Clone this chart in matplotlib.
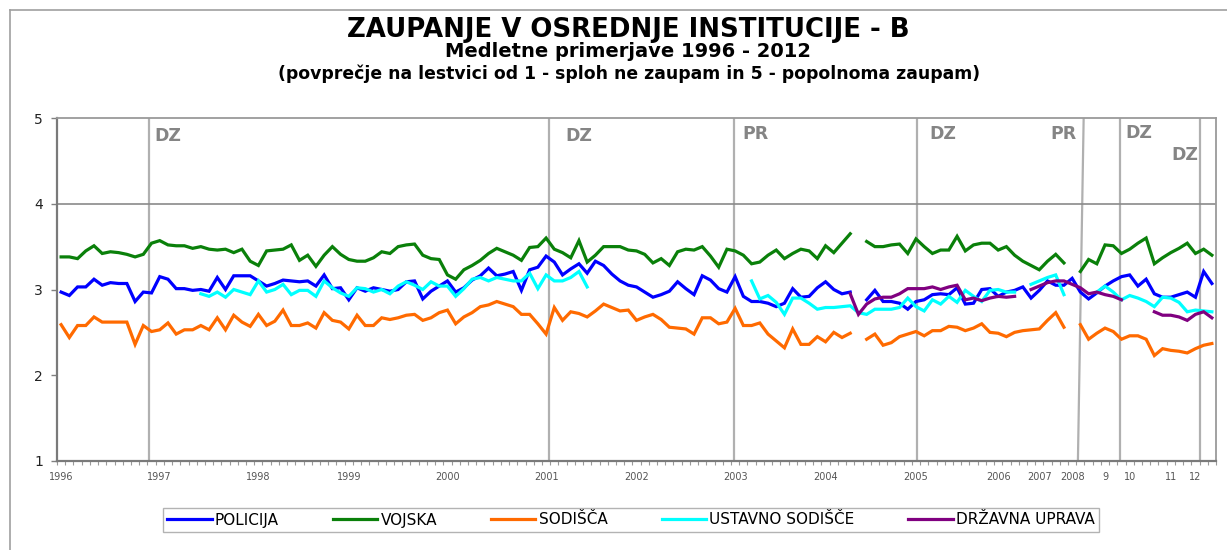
import numpy as np
import matplotlib
matplotlib.use("Agg")
import matplotlib.pyplot as plt
from matplotlib.lines import Line2D

nan = np.nan

# ---------------- data ----------------
series_names = ["POLICIJA", "VOJSKA", "SODIŠČA", "USTAVNO SODIŠČE", "DRŽAVNA UPRAVA"]

policija = [
    2.97, 2.93, 3.03, 3.03, 3.12, 3.05, 3.08, 3.07, 3.07, 2.86,
    2.97, 2.96, 3.15, 3.12, 3.01, 3.01, 2.99, 3.00, 2.98, 3.14,
    3.00, 3.16, 3.16, 3.16, 3.10, 3.04, 3.07, 3.11, 3.10, 3.09,
    3.10, 3.04, 3.17, 3.01, 3.02, 2.88, 3.02, 2.98, 3.02, 3.00,
    2.98, 3.00, 3.09, 3.10, 2.89, 2.98, 3.04, 3.10, 2.97, 3.02,
    3.11, 3.16, 3.25, 3.16, 3.18, 3.21, 2.99, 3.23, 3.26, 3.39,
    3.32, 3.17, 3.24, 3.30, 3.19, 3.33, 3.28, 3.18, 3.10, 3.05,
    3.03, 2.97, 2.91, 2.94, 2.98, 3.09, 3.01, 2.94, 3.16, 3.11,
    3.01, 2.97, 3.15, 2.92, 2.86, 2.86, 2.84, 2.80, 2.84, 3.01,
    2.91, 2.92, 3.02, 3.09, 3.00, 2.95, 2.97, nan, 2.88, 2.99,
    2.86, 2.86, 2.84, 2.77, 2.86, 2.88, 2.94, 2.95, 2.94, 3.02,
    2.83, 2.84, 3.00, 3.01, 2.92, 2.97, 2.99, 3.03, 2.90, 2.99,
    3.10, 3.05, 3.05, 3.13, 2.97, 2.89, 2.96, 3.04, 3.10, 3.15,
    3.17, 3.04, 3.12, 2.95, 2.91, 2.91, 2.94, 2.97, 2.91, 3.21,
    3.07,
]

vojska = [
    3.38, 3.38, 3.36, 3.45, 3.51, 3.42, 3.44, 3.43, 3.41, 3.38,
    3.41, 3.54, 3.57, 3.52, 3.51, 3.51, 3.48, 3.50, 3.47, 3.46,
    3.47, 3.43, 3.47, 3.33, 3.28, 3.45, 3.46, 3.47, 3.52, 3.34,
    3.40, 3.27, 3.40, 3.50, 3.41, 3.35, 3.33, 3.33, 3.37, 3.44,
    3.42, 3.50, 3.52, 3.53, 3.40, 3.36, 3.35, 3.17, 3.12, 3.23,
    3.28, 3.34, 3.42, 3.48, 3.44, 3.40, 3.34, 3.49, 3.50, 3.60,
    3.47, 3.43, 3.37, 3.57, 3.32, 3.40, 3.50, 3.50, 3.50, 3.46,
    3.45, 3.41, 3.31, 3.36, 3.28, 3.44, 3.47, 3.46, 3.50, 3.39,
    3.26, 3.47, 3.45, 3.40, 3.30, 3.32, 3.40, 3.46, 3.36, 3.42,
    3.47, 3.45, 3.36, 3.51, 3.43, 3.54, 3.65, nan, 3.56, 3.50,
    3.50, 3.52, 3.53, 3.42, 3.59, 3.50, 3.42, 3.46, 3.46, 3.62,
    3.45, 3.52, 3.54, 3.54, 3.46, 3.50, 3.40, 3.33, 3.28, 3.23,
    3.33, 3.41, 3.31, nan, 3.21, 3.35, 3.30, 3.52, 3.51, 3.42,
    3.47, 3.54, 3.60, 3.30, 3.37, 3.43, 3.48, 3.54, 3.42, 3.47,
    3.40,
]

sodisca = [
    2.59, 2.44, 2.58, 2.58, 2.68, 2.62, 2.62, 2.62, 2.62, 2.36,
    2.58, 2.51, 2.53, 2.61, 2.48, 2.53, 2.53, 2.58, 2.53, 2.67,
    2.53, 2.70, 2.62, 2.57, 2.71, 2.58, 2.63, 2.76, 2.58, 2.58,
    2.61, 2.55, 2.73, 2.64, 2.62, 2.54, 2.70, 2.58, 2.58, 2.67,
    2.65, 2.67, 2.70, 2.71, 2.64, 2.67, 2.73, 2.76, 2.60, 2.68,
    2.73, 2.80, 2.82, 2.86, 2.83, 2.80, 2.71, 2.71, 2.60, 2.48,
    2.79, 2.64, 2.74, 2.72, 2.68, 2.75, 2.83, 2.79, 2.75, 2.76,
    2.64, 2.68, 2.71, 2.65, 2.56, 2.55, 2.54, 2.48, 2.67, 2.67,
    2.60, 2.62, 2.78, 2.58, 2.58, 2.61, 2.48, 2.40, 2.32, 2.54,
    2.36, 2.36, 2.45, 2.39, 2.50, 2.44, 2.49, nan, 2.42, 2.48,
    2.35, 2.38, 2.45, 2.48, 2.51, 2.46, 2.52, 2.52, 2.57, 2.56,
    2.52, 2.55, 2.60, 2.50, 2.49, 2.45, 2.50, 2.52, 2.53, 2.54,
    2.64, 2.73, 2.56, nan, 2.59, 2.42, 2.49, 2.55, 2.51, 2.42,
    2.46, 2.46, 2.42, 2.23, 2.31, 2.29, 2.28, 2.26, 2.31, 2.35,
    2.37,
]

ustavno = [
    nan, nan, nan, nan, nan, nan, nan, nan, nan, nan,
    nan, nan, nan, nan, nan, nan, nan, 2.95, 2.92, 2.97,
    2.91, 3.00, 2.97, 2.94, 3.10, 2.97, 3.00, 3.06, 2.94, 2.99,
    2.99, 2.92, 3.10, 3.02, 2.96, 2.92, 3.02, 3.01, 2.97, 3.00,
    2.95, 3.04, 3.09, 3.05, 3.00, 3.09, 3.04, 3.04, 2.92, 3.01,
    3.12, 3.14, 3.10, 3.14, 3.12, 3.10, 3.10, 3.19, 3.01, 3.17,
    3.10, 3.10, 3.14, 3.21, 3.03, nan, nan, nan, nan, nan,
    nan, nan, nan, nan, nan, nan, nan, nan, nan, nan,
    nan, nan, nan, nan, 3.10, 2.89, 2.93, 2.85, 2.71, 2.90,
    2.90, 2.84, 2.77, 2.79, 2.79, 2.80, 2.81, 2.73, 2.71, 2.77,
    2.77, 2.77, 2.79, 2.90, 2.80, 2.75, 2.88, 2.83, 2.92, 2.85,
    2.99, 2.92, 2.86, 2.99, 3.00, 2.97, 2.97, nan, 3.06, 3.10,
    3.14, 3.17, 2.94, nan, nan, nan, 2.97, 3.04, 2.97, 2.88,
    2.93, 2.90, 2.86, 2.80, 2.91, 2.90, 2.85, 2.74, 2.76, 2.75,
    2.74,
]

drzavna = [nan] * 96 + [
    2.95, 2.71, 2.83, 2.89,
    2.91, 2.91, 2.95, 3.01, 3.01, 3.01, 3.03, 3.00, 3.03, 3.05,
    2.88, 2.90, 2.87, 2.90, 2.92, 2.91, 2.92, nan, 3.00, 3.04,
    3.08, 3.10, 3.10, 3.06, 3.02, 2.95, 2.97, 2.94, 2.92, 2.88,
    nan, nan, nan, 2.74, 2.70, 2.70, 2.68, 2.64, 2.71, 2.74,
    2.67,
]

# year labels on the category axis (first survey of each year)
year_labels = ["1996", "1997", "1998", "1999", "2000", "2001", "2002", "2003",
               "2004", "2005", "2006", "2007", "2008", "9", "10", "11", "12"]
year_first_survey = [0, 12, 24, 35, 47, 59, 70, 82, 93, 104, 114, 119, 123, 127, 130, 135, 138]

# events (elections / presidential elections) marked on the chart
event_labels = ["DZ", "DZ", "PR", "DZ", "PR", "DZ", "DZ"]
event_at = [10.7, 59.4, 81.9, 104.1, 124.1, 128.8, 138.6]

# ---------------- figure ----------------
W, H = 1227, 550
fig = plt.figure(figsize=(W / 100, H / 100), dpi=100)
fig.patch.set_facecolor("white")

def fx(px):
    return px / W

def fy(py):
    return 1 - py / H

# outer chart border (top and left visible)
fig.add_artist(Line2D([fx(10), fx(10)], [fy(10), fy(550)], color="#a0a0a0", lw=1.2))
fig.add_artist(Line2D([fx(10), fx(1227)], [fy(10), fy(10)], color="#a0a0a0", lw=1.2))

ax = fig.add_axes([fx(57), fy(461), fx(1216) - fx(57), fy(118) - fy(461)])
ax.set_facecolor("white")

n = len(policija)
x = np.arange(n)
colors = ["#0000ff", "#0a800a", "#ff6a00", "#00ffff", "#800080"]
all_series = [policija, vojska, sodisca, ustavno, drzavna]

# event lines
for k, (lab, xe) in enumerate(zip(event_labels, event_at)):
    if k == 4:
        ax.plot([xe + 0.3, xe - 0.4], [5, 1], color="#b0b0b0", lw=1.6, zorder=1)
    else:
        ax.axvline(xe, color="#b0b0b0", lw=1.6, zorder=1)

label_spec = [
    (0.6, 4.79, "left"),
    (2.0, 4.79, "left"),
    (1.0, 4.81, "left"),
    (1.5, 4.81, "left"),
    (-0.5, 4.81, "right"),
    (0.7, 4.83, "left"),
    (-0.3, 4.57, "right"),
]
for lab, xe, (dx, yy, ha) in zip(event_labels, event_at, label_spec):
    ax.text(xe + dx, yy, lab, color="#858585", fontsize=12.5, ha=ha, va="center",
            fontweight="bold", zorder=2)

ax.axhline(4, color="#8a8a8a", lw=1.2, zorder=1)

for vals, col, name in zip(all_series, colors, series_names):
    ax.plot(x, np.array(vals, dtype=float), color=col, lw=2.3, label=name,
            solid_joinstyle="miter", zorder=3)

ax.set_xlim(-0.5, n - 0.5)
ax.set_ylim(1, 5)
ax.set_yticks([1, 2, 3, 4, 5])
ax.set_yticklabels(["1", "2", "3", "4", "5"], fontsize=10, color="#222222")
ax.tick_params(axis="y", length=4, width=1, color="#808080", pad=6)

ax.set_xticks(year_first_survey)
ax.set_xticklabels(year_labels, fontsize=7, color="#555555")
ax.tick_params(axis="x", which="major", length=0, pad=8)
ax.set_xticks(np.arange(n + 1) - 0.5, minor=True)
ax.tick_params(axis="x", which="minor", length=3, width=0.8, color="#9a9a9a")

for side in ["left", "bottom"]:
    ax.spines[side].set_color("#7a7a7a")
    ax.spines[side].set_linewidth(1.6)
for side in ["top", "right"]:
    ax.spines[side].set_color("#9a9a9a")
    ax.spines[side].set_linewidth(1.3)

# titles
fig.text(fx(628), fy(30), "ZAUPANJE V OSREDNJE INSTITUCIJE - B", ha="center", va="center",
         fontsize=18.7, fontweight="bold", color="black")
fig.text(fx(628), fy(52), "Medletne primerjave 1996 - 2012", ha="center", va="center",
         fontsize=14, fontweight="bold", color="black")
fig.text(fx(629), fy(74), "(povprečje na lestvici od 1 - sploh ne zaupam in 5 - popolnoma zaupam)",
         ha="center", va="center", fontsize=12.4, fontweight="bold", color="black")

# legend
handles = [Line2D([], [], color=c, lw=2.3) for c in colors]
leg = fig.legend(handles, series_names, loc="center", bbox_to_anchor=(fx(631), fy(520)),
                 ncol=5, fontsize=11, frameon=True, fancybox=False, handlelength=2.9,
                 handletextpad=0.2, columnspacing=3.55, borderpad=0.3)
leg.get_frame().set_edgecolor("#a0a0a0")
leg.get_frame().set_linewidth(1.0)

fig.savefig("out.png", dpi=100, facecolor="white")
